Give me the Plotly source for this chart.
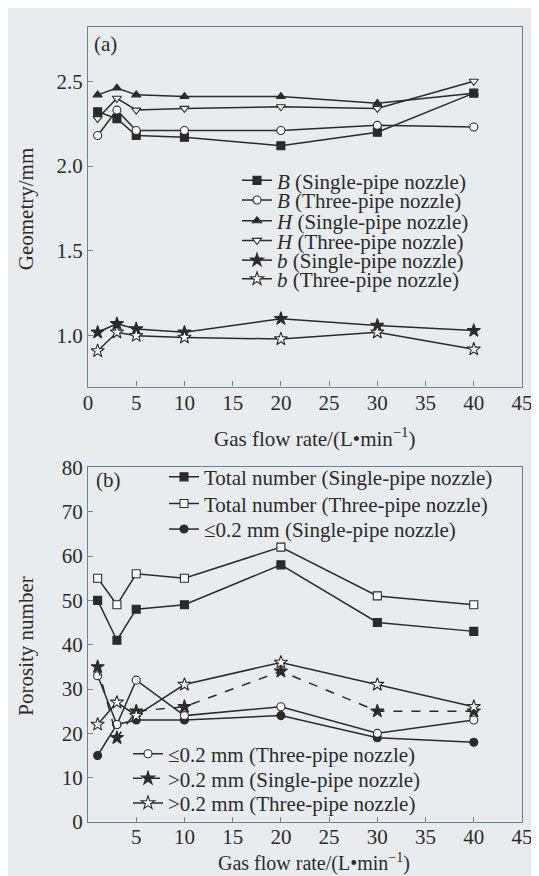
import plotly.graph_objects as go

# gas flow rate, L/min
flow = [1, 3, 5, 10, 20, 30, 40]

# (a) bead geometry, mm
B_single = [2.32, 2.28, 2.18, 2.17, 2.12, 2.20, 2.43]
B_three = [2.18, 2.33, 2.21, 2.21, 2.21, 2.24, 2.23]
H_single = [2.42, 2.46, 2.42, 2.41, 2.41, 2.37, 2.43]
H_three = [2.28, 2.40, 2.33, 2.34, 2.35, 2.34, 2.50]
b_single = [1.02, 1.07, 1.04, 1.02, 1.10, 1.06, 1.03]
b_three = [0.91, 1.02, 1.00, 0.99, 0.98, 1.02, 0.92]

# (b) porosity number
tot_single = [50, 41, 48, 49, 58, 45, 43]
tot_three = [55, 49, 56, 55, 62, 51, 49]
le_single = [15, 22, 23, 23, 24, 19, 18]
le_three = [33, 22, 32, 24, 26, 20, 23]
gt_single = [35, 19, 25, 26, 34, 25, 25]
gt_three = [22, 27, 24, 31, 36, 31, 26]

x_ticks = [0, 5, 10, 15, 20, 25, 30, 35, 40, 45]
geo_ticks = [1.0, 1.5, 2.0, 2.5]
por_ticks = [0, 10, 20, 30, 40, 50, 60, 70, 80]

BG = '#e8ecee'
INK = '#2b2b2b'
FRAME = '#6b858a'
FONT = 'Liberation Serif'

W, H = 539, 876
L, R, T, B = 80, 25, 7, 62
PW, PH = W - L - R, H - T - B

def px(x):
    return (x - L) / PW

def py(y):
    return (H - B - y) / PH

# (name, x, y, symbol, filled, dash, axis, legend row y px, legend left px)
series = [
    ('<i>B</i> (Single-pipe nozzle)', flow, B_single, 'square', True, 'solid', 1, 163, 229),
    ('<i>B</i> (Three-pipe nozzle)', flow, B_three, 'circle', False, 'solid', 1, 183, 229),
    ('<i>H</i> (Single-pipe nozzle)', flow, H_single, 'triangle-up', True, 'solid', 1, 204, 229),
    ('<i>H</i> (Three-pipe nozzle)', flow, H_three, 'triangle-down', False, 'solid', 1, 224, 229),
    ('<i>b</i> (Single-pipe nozzle)', flow, b_single, 'star', True, 'solid', 1, 244, 229),
    ('<i>b</i> (Three-pipe nozzle)', flow, b_three, 'star', False, 'solid', 1, 263, 229),
    ('Total number (Single-pipe nozzle)', flow, tot_single, 'square', True, 'solid', 2, 464, 156),
    ('Total number (Three-pipe nozzle)', flow, tot_three, 'square', False, 'solid', 2, 491, 156),
    ('≤0.2 mm (Single-pipe nozzle)', flow, le_single, 'circle', True, 'solid', 2, 517, 156),
    ('≤0.2 mm (Three-pipe nozzle)', flow, le_three, 'circle', False, 'solid', 2, 745, 120),
    ('>0.2 mm (Single-pipe nozzle)', flow, gt_single, 'star', True, 'dash', 2, 770, 120),
    ('>0.2 mm (Three-pipe nozzle)', flow, gt_three, 'star', False, 'solid', 2, 795, 120),
]

fig = go.Figure()
legends = {}
for i, (name, xs, ys, sym, filled, dash, ax, ly, lx) in enumerate(series):
    lg = 'legend' if i == 0 else 'legend%d' % (i + 1)
    fig.add_trace(go.Scatter(
        x=xs, y=ys, name=name, mode='lines+markers',
        xaxis='x' if ax == 1 else 'x2', yaxis='y' if ax == 1 else 'y2',
        line=dict(color=INK, width=1.5, dash=dash),
        marker=dict(symbol=sym, size=8 if sym != 'star' else 10,
                    color=INK if filled else 'white',
                    line=dict(color=INK, width=1.1)),
        legend=lg,
    ))
    legends[lg] = dict(x=px(lx), y=py(ly), xanchor='left', yanchor='middle',
                       bgcolor='rgba(0,0,0,0)', borderwidth=0,
                       font=dict(family=FONT, size=21, color=INK))

axis_style = dict(showline=True, linecolor=FRAME, linewidth=1.2, mirror=True,
                  showgrid=False, zeroline=False, ticks='inside', ticklen=5,
                  tickcolor=FRAME, tickfont=dict(family=FONT, size=21, color=INK))

fig.update_layout(
    width=W, height=H,
    margin=dict(l=L, r=R, t=T, b=B),
    paper_bgcolor=BG, plot_bgcolor=BG,
    font=dict(family=FONT, color=INK),
    showlegend=True,
    xaxis=dict(axis_style, domain=[0, 1], anchor='y', range=[0, 45], tickvals=x_ticks,
               ticklabelstandoff=-3),
    yaxis=dict(axis_style, domain=[py(372), 1], anchor='x', range=[0.70, 2.82],
               tickvals=geo_ticks, tickformat='.1f'),
    xaxis2=dict(axis_style, domain=[0, 1], anchor='y2', range=[0, 45], tickvals=x_ticks[1:],
                ticklabelstandoff=-4),
    yaxis2=dict(axis_style, domain=[0, py(454)], anchor='x2', range=[0, 80],
                tickvals=por_ticks),
    **legends,
)

ann = dict(xref='paper', yref='paper', showarrow=False, xanchor='center', yanchor='middle',
           font=dict(family=FONT, size=21, color=INK))
fig.add_annotation(ann, text='(a)', x=px(97), y=py(24))
fig.add_annotation(ann, text='(b)', x=px(100), y=py(467))
fig.add_annotation(ann, text='Geometry/mm', x=px(18), y=py(192), textangle=-90)
fig.add_annotation(ann, text='Porosity number', x=px(18), y=py(636), textangle=-90)
fig.add_annotation(ann, text='Gas flow rate/(L•min<sup>−1</sup>)', x=px(306), y=py(424))
fig.add_annotation(dict(ann, font=dict(family=FONT, size=20, color=INK)),
                   text='Gas flow rate/(L•min<sup>−1</sup>)', x=px(306), y=py(855))

fig.write_html("out.html")
